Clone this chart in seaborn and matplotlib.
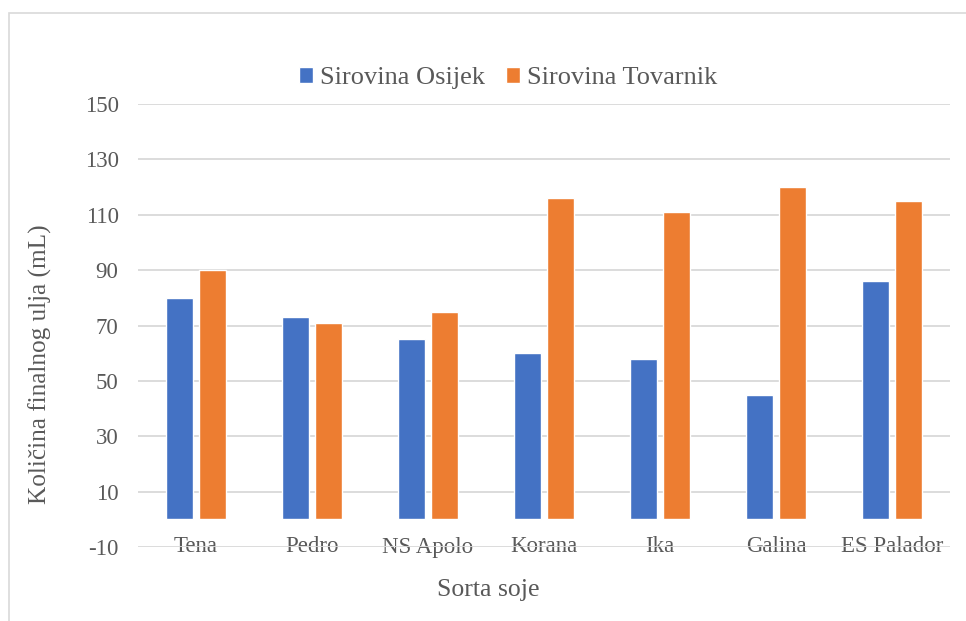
import pandas as pd
import numpy as np
import matplotlib
matplotlib.use("Agg")
import matplotlib.pyplot as plt
import seaborn as sns
from matplotlib.patches import Rectangle

# Data
sorte = ["Tena", "Pedro", "NS Apolo", "Korana", "Ika", "Galina", "ES Palador"]
osijek = [80, 73, 65, 60, 58, 45, 86]
tovarnik = [90, 71, 75, 116, 111, 120, 115]
serije = ["Sirovina Osijek", "Sirovina Tovarnik"]
y_ticks = list(range(-10, 151, 20))

df = pd.DataFrame({
    "Sorta": sorte * 2,
    "Vrijednost": osijek + tovarnik,
    "Serija": [serije[0]] * len(sorte) + [serije[1]] * len(sorte),
})

sns.set_theme(style="white")
serif = ["Liberation Serif", "DejaVu Serif"]
plt.rcParams["font.family"] = serif
plt.rcParams["axes.unicode_minus"] = False
text_col = "#595959"

fig = plt.figure(figsize=(9.66, 6.21), dpi=100)
ax = fig.add_axes([138 / 966, 74 / 621, 812 / 966, 443 / 621])

sns.barplot(data=df, x="Sorta", y="Vrijednost", hue="Serija", order=sorte,
            hue_order=serije, palette=["#4472C4", "#ED7D31"], saturation=1,
            width=0.569, gap=0.21, ax=ax, zorder=3, legend=True)

ax.set_ylim(-10, 150)
ax.set_xlim(-0.5, len(sorte) - 0.5)
ax.set_yticks(y_ticks)
ax.grid(axis="y", color="#d9d9d9", linewidth=1.3, zorder=0)
ax.grid(axis="x", visible=False)
for s in ax.spines.values():
    s.set_visible(False)

ax.tick_params(axis="y", length=0, pad=14, labelsize=16.5, labelcolor=text_col)
ax.tick_params(axis="x", length=0, pad=0, labelsize=16.5, labelcolor=text_col)
for lbl in ax.get_xticklabels() + ax.get_yticklabels():
    lbl.set_family(serif)
for lbl in ax.get_xticklabels():
    lbl.set_va("center")

ax.set_ylabel("Količina finalnog ulja (mL)", fontsize=18.2, color=text_col,
              family=serif)
ax.yaxis.set_label_coords((40 - 138) / 812, (547 - 364) / 443)
ax.yaxis.label.set_va("center")
ax.set_xlabel("Sorta soje", fontsize=18.5, color=text_col, family=serif)
ax.xaxis.set_label_coords((488 - 138) / 812, -(590 - 547) / 443)
ax.xaxis.label.set_va("center")

leg = ax.legend(loc="center", bbox_to_anchor=(508 / 966, 1 - 78 / 621),
                bbox_transform=fig.transFigure, ncol=2, frameon=False,
                prop={"family": serif, "size": 19}, handlelength=0.55,
                handleheight=0.6, handletextpad=0.25, columnspacing=0.8,
                labelcolor=text_col)
for t in leg.get_texts():
    t.set_fontfamily(serif)

# outer chart frame
fig.patches.append(Rectangle((9 / 966, -0.05), 1.2, 0.979 + 0.05,
                             transform=fig.transFigure, fill=False,
                             edgecolor="#d9d9d9", linewidth=1.2))

fig.savefig("out.png", dpi=100)
